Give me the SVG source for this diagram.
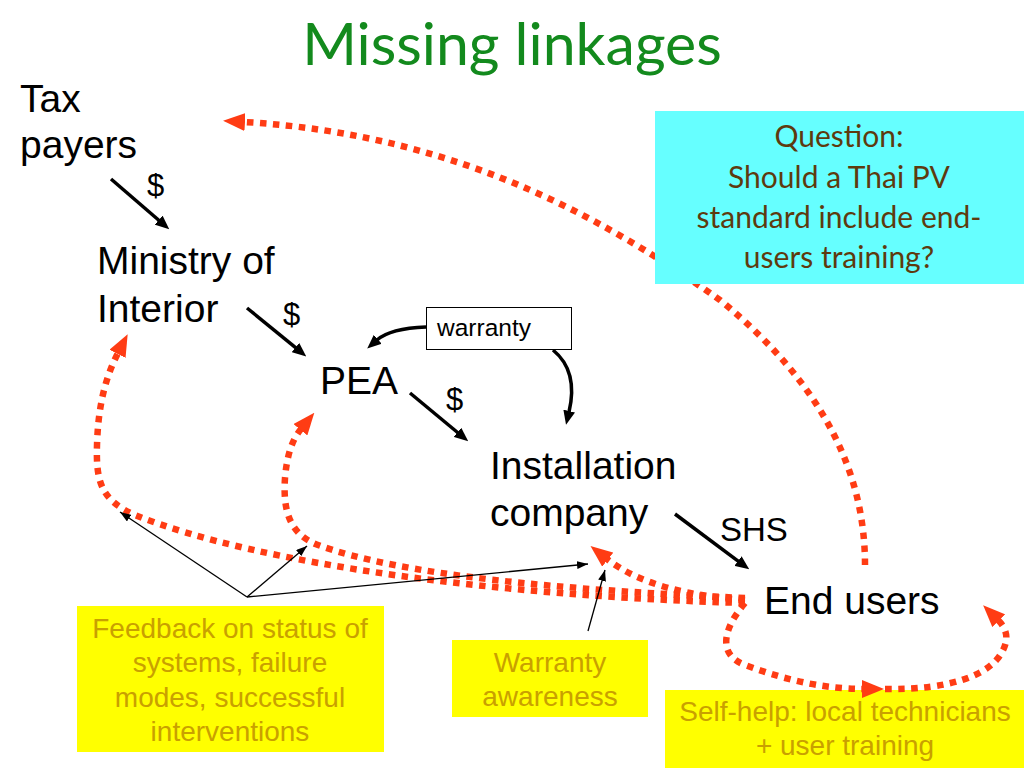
<svg xmlns="http://www.w3.org/2000/svg" width="1024" height="768" viewBox="0 0 1024 768">
<style>
.lbl{font-family:"Liberation Sans",Arial,sans-serif;fill:#000}
.big{font-size:39px}
.mid{font-size:33px}
.note{font-family:"Liberation Sans",Arial,sans-serif;font-size:28px;fill:#c9a000;text-anchor:middle}
.q{font-family:Lato,"Noto Sans",sans-serif;font-size:30px;fill:#5e3a0e;text-anchor:middle}
.red{fill:none;stroke:#ff3c14;stroke-width:6.5;stroke-dasharray:6.5 6.5}
.blk{fill:none;stroke:#000;stroke-width:3.5}
.thin{fill:none;stroke:#000;stroke-width:1.3}
</style>
<defs>
<marker id="ra" markerUnits="userSpaceOnUse" markerWidth="22" markerHeight="18" viewBox="0 0 22 18" refX="1" refY="9" orient="auto"><path d="M0,0 L22,9 L0,18 z" fill="#ff3c14"/></marker>
<marker id="ba" markerUnits="userSpaceOnUse" markerWidth="14" markerHeight="12" viewBox="0 0 14 12" refX="1" refY="6" orient="auto"><path d="M0,0 L14,6 L0,12 z" fill="#000"/></marker>
<marker id="ta" markerUnits="userSpaceOnUse" markerWidth="11" markerHeight="8" viewBox="0 0 11 8" refX="11" refY="4" orient="auto"><path d="M0,0 L11,4 L0,8 z" fill="#000"/></marker>
</defs>
<rect width="1024" height="768" fill="#fff"/>
<text x="512" y="65" font-family="Lato,'Noto Sans',sans-serif" font-size="59" fill="#138a1d" text-anchor="middle">Missing linkages</text>

<g id="feedback">
<rect x="77" y="606" width="307" height="146" fill="#ffff00"/>
<text class="note" x="230" y="638">Feedback on status of</text>
<text class="note" x="230" y="672">systems, failure</text>
<text class="note" x="230" y="707">modes, successful</text>
<text class="note" x="230" y="741">interventions</text>
</g>
<g id="warrantyawareness">
<rect x="452" y="640" width="196" height="77" fill="#ffff00"/>
<text class="note" x="550" y="672">Warranty</text>
<text class="note" x="550" y="706">awareness</text>
</g>
<g id="selfhelp">
<rect x="665" y="690" width="359" height="78" fill="#ffff00"/>
<text class="note" x="845" y="721">Self-help: local technicians</text>
<text class="note" x="845" y="755">+ user training</text>
</g>

<g id="connectors">
<path class="red" d="M865,565 C865,480 830,390 720,300 C620,230 470,135 244,122" marker-end="url(#ra)"/>
<path class="red" d="M745,603 C500,596 260,565 135,515 C100,500 96,480 97,445 C98,410 104,380 118,353" marker-end="url(#ra)"/>
<path class="red" d="M745,598 C560,590 400,575 318,545 C288,534 283,508 285,478 C287,455 292,440 301,429" marker-end="url(#ra)"/>
<path class="red" d="M745,600 C690,596 640,585 607,559" marker-end="url(#ra)"/>
<path class="red" d="M745,603 C722,630 718,655 745,665 C790,682 830,689 863,689" marker-end="url(#ra)"/>
<path class="red" d="M885,689 C950,690 990,675 1002,652 C1010,638 1006,628 998,620" marker-end="url(#ra)"/>
<path class="blk" d="M111,179 L159.4,220.8" marker-end="url(#ba)"/>
<path class="blk" d="M247,308 L296.2,348.2" marker-end="url(#ba)"/>
<path class="blk" d="M410,393 L458.2,433" marker-end="url(#ba)"/>
<path class="blk" d="M675,514 L738.8,561.6" marker-end="url(#ba)"/>
<path class="blk" d="M426,327 C400,328 385,333 377,340" marker-end="url(#ba)"/>
<path class="blk" d="M553,350 C575,368 573,395 569,412" marker-end="url(#ba)"/>
<path class="thin" d="M247,597 L120,512" marker-end="url(#ta)"/>
<path class="thin" d="M247,597 L307,546" marker-end="url(#ta)"/>
<path class="thin" d="M247,597 L588,564" marker-end="url(#ta)"/>
<path class="thin" d="M588,631 L605,570" marker-end="url(#ta)"/>
<text class="lbl" x="147" y="196" font-size="31">$</text>
<text class="lbl" x="283" y="325" font-size="31">$</text>
<text class="lbl" x="446" y="410" font-size="31">$</text>
<text class="lbl mid" x="720" y="541">SHS</text>
</g>

<g id="question">
<rect x="655" y="111" width="369" height="173" fill="#66ffff"/>
<text class="q" x="839" y="147">Question:</text>
<text class="q" x="839" y="188">Should a Thai PV</text>
<text class="q" x="839" y="228">standard include end-</text>
<text class="q" x="839" y="268">users training?</text>
</g>
<g id="taxpayers">
<text class="lbl big" x="20" y="112">Tax</text>
<text class="lbl big" x="20" y="158">payers</text>
</g>
<g id="ministry">
<text class="lbl big" x="97" y="274">Ministry of</text>
<text class="lbl big" x="97" y="322">Interior</text>
</g>
<g id="pea">
<text class="lbl big" x="320" y="394">PEA</text>
</g>
<g id="installation">
<text class="lbl big" x="490" y="479">Installation</text>
<text class="lbl big" x="490" y="526">company</text>
</g>
<g id="endusers">
<text class="lbl big" x="764" y="614">End users</text>
</g>
<g id="warranty">
<rect x="426.5" y="307.5" width="145" height="42" fill="#fff" stroke="#000" stroke-width="1"/>
<text class="lbl" x="437" y="336" font-size="24.5">warranty</text>
</g>
</svg>
